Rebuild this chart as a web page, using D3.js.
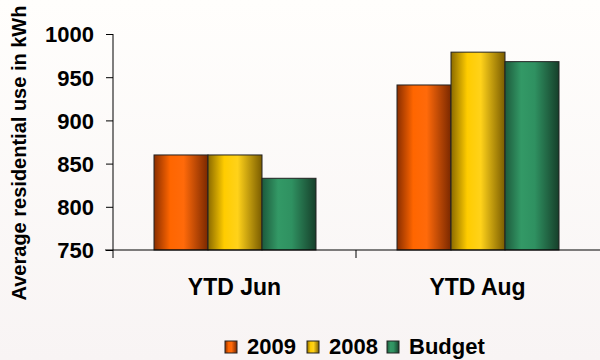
<!DOCTYPE html>
<html><head><meta charset="utf-8">
<script src="https://cdn.jsdelivr.net/npm/d3@7"></script>
<style>body{margin:0;background:#fbf9f8}svg{display:block}text{font-family:"Liberation Sans",Arial,sans-serif;font-weight:bold;fill:#000}</style>
</head><body>
<script>
const categories = ["YTD Jun", "YTD Aug"];
const seriesNames = ["2009", "2008", "Budget"];
const values2009 = [860, 941];
const values2008 = [860, 979];
const valuesBudget = [833, 968];
const yTicks = [750, 800, 850, 900, 950, 1000];
const colors = {"2009": ["#8a2e00", "#ff6600", "#ff6a0a", "#7a2800"], "2008": ["#8a6a00", "#ffcc00", "#ffd21a", "#7a5c00"], "Budget": ["#1d5a3c", "#339966", "#2f9161", "#163f2a"]};

const W = 600, H = 360;
const svg = d3.select("body").append("svg").attr("width", W).attr("height", H);
const defs = svg.append("defs");
const bg = defs.append("linearGradient").attr("id", "bg").attr("x1", 0).attr("y1", 0).attr("x2", 0).attr("y2", 1);
bg.append("stop").attr("offset", 0).attr("stop-color", "#fffefc");
bg.append("stop").attr("offset", 1).attr("stop-color", "#f8f4f4");
svg.append("rect").attr("width", W).attr("height", H).attr("fill", "url(#bg)");

seriesNames.forEach((s, i) => {
  const g = defs.append("linearGradient").attr("id", "g" + i).attr("x1", 0).attr("y1", 0).attr("x2", 1).attr("y2", 0);
  const c = colors[s];
  g.append("stop").attr("offset", 0).attr("stop-color", c[0]);
  g.append("stop").attr("offset", 0.3).attr("stop-color", c[1]);
  g.append("stop").attr("offset", 0.55).attr("stop-color", c[2]);
  g.append("stop").attr("offset", 1).attr("stop-color", c[3]);
});

const x0 = d3.scaleBand().domain(categories).range([113, 599]).paddingInner(0).paddingOuter(0);
const x1 = d3.scaleBand().domain(seriesNames).range([41, x0.bandwidth() - 40]);
const y = d3.scaleLinear().domain([750, 1000]).range([250, 34]);

const data = categories.map((c, i) => ({cat: c, vals: [values2009[i], values2008[i], valuesBudget[i]]}));

const groups = svg.selectAll("g.grp").data(data).enter().append("g").attr("transform", d => `translate(${x0(d.cat)},0)`);
groups.selectAll("rect").data(d => d.vals.map((v, i) => ({s: seriesNames[i], v, i}))).enter().append("rect")
  .attr("x", d => x1(d.s)).attr("width", x1.bandwidth())
  .attr("y", d => y(d.v)).attr("height", d => y(750) - y(d.v))
  .attr("fill", d => `url(#g${d.i})`).attr("stroke", "#222").attr("stroke-width", 1);

// Y axis
const yAxis = svg.append("g").attr("transform", "translate(113,0)")
  .call(d3.axisLeft(y).tickValues(yTicks).tickSize(7).tickPadding(12).tickFormat(d3.format("d")));
yAxis.select(".domain").attr("d", "M0,34V258").attr("stroke", "#000");
yAxis.selectAll(".tick line").attr("stroke", "#000");
yAxis.selectAll("text").style("font-size", "22px").attr("dy", "0.36em");

// X axis
const xAxis = svg.append("g").attr("transform", "translate(0,250)");
xAxis.append("line").attr("x1", 105).attr("x2", 600).attr("y1", 0).attr("y2", 0).attr("stroke", "#000");
xAxis.selectAll("line.t").data([x0.range()[0] + x0.bandwidth()]).enter().append("line")
  .attr("x1", d => d).attr("x2", d => d).attr("y1", 0).attr("y2", 8).attr("stroke", "#000");
xAxis.selectAll("text").data(categories).enter().append("text")
  .attr("x", d => x0(d) + x0.bandwidth() / 2).attr("y", 45).attr("text-anchor", "middle")
  .style("font-size", "23px").text(d => d);

// Y label
svg.append("text").attr("transform", "translate(26,153) rotate(-90)").attr("text-anchor", "middle")
  .style("font-size", "20px").text("Average residential use in kWh");

// Legend
const legendX = [225, 307, 387];
const leg = svg.append("g");
seriesNames.forEach((s, i) => {
  leg.append("rect").attr("x", legendX[i]).attr("y", 341).attr("width", 12).attr("height", 12)
    .attr("fill", `url(#g${i})`).attr("stroke", "#222");
  leg.append("text").attr("x", legendX[i] + 22).attr("y", 354).style("font-size", "22px").text(s);
});
</script>
</body></html>
